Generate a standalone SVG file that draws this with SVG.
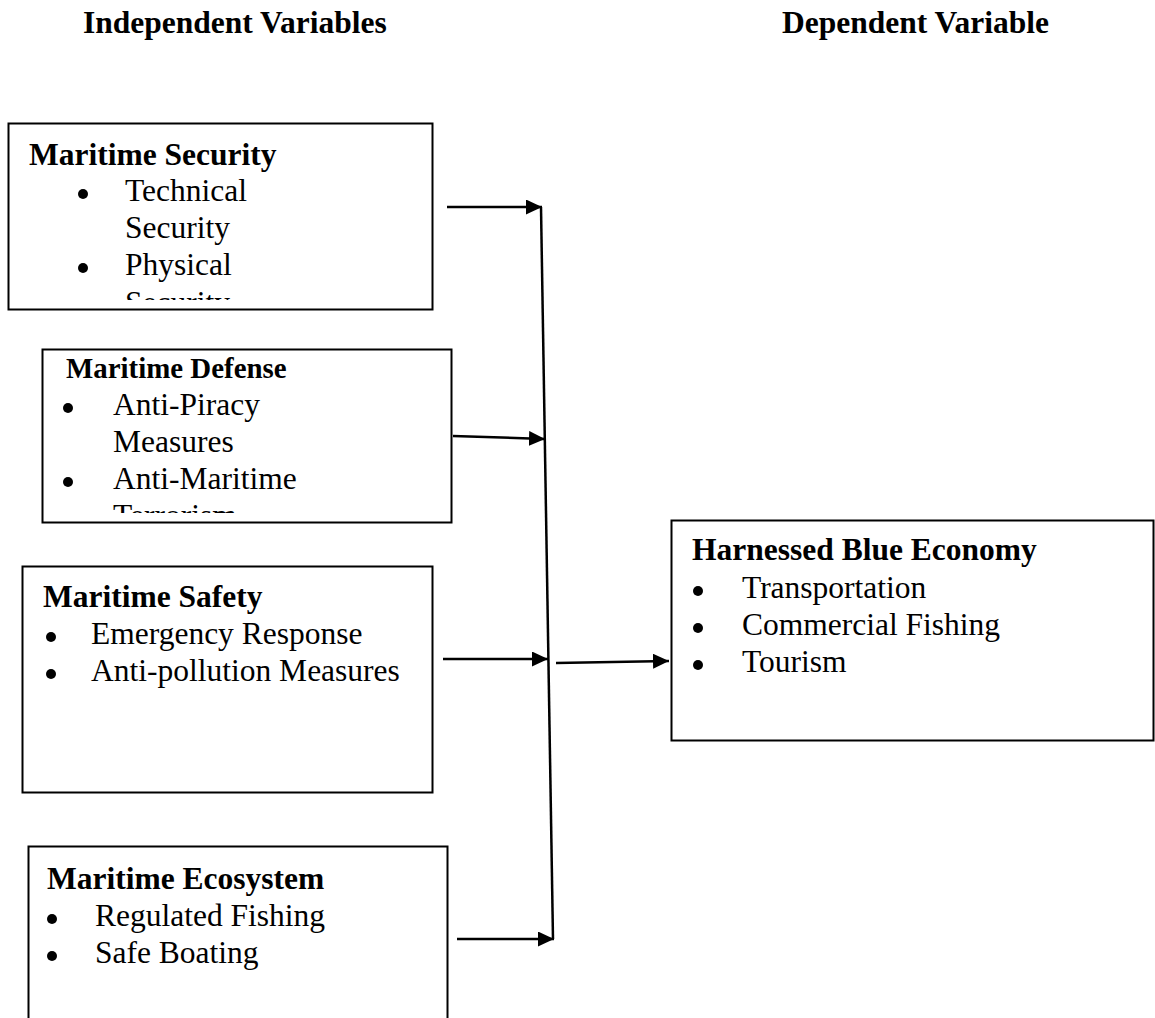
<svg xmlns="http://www.w3.org/2000/svg" width="1155" height="1018" viewBox="0 0 1155 1018">
<style>
  .box { fill: #ffffff; stroke: #000000; stroke-width: 2; }
  .hd { font-family: "Liberation Serif", "Times New Roman", serif; font-weight: bold; font-size: 31.5px; fill: #000; }
  .ttl { font-family: "Liberation Serif", "Times New Roman", serif; font-weight: bold; font-size: 31.5px; fill: #000; }
  .ttl-s { font-family: "Liberation Serif", "Times New Roman", serif; font-weight: bold; font-size: 28.9px; fill: #000; }
  .itm { font-family: "Liberation Serif", "Times New Roman", serif; font-size: 31.5px; fill: #000; }
  .con { stroke: #000; stroke-width: 2.5; fill: none; }
</style>
<defs>
  <marker id="ah" markerUnits="userSpaceOnUse" markerWidth="18" markerHeight="16" refX="16" refY="7.5" orient="auto">
    <path d="M0,0 L16,7.5 L0,15 Z" fill="#000"/>
  </marker>
  <clipPath id="c1"><rect x="8" y="123" width="425" height="177"/></clipPath>
  <clipPath id="c2"><rect x="42" y="349" width="410" height="164"/></clipPath>
</defs>

<g id="headers">
  <text class="hd" x="83" y="33">Independent Variables</text>
  <text class="hd" x="782" y="33">Dependent Variable</text>
</g>

<g id="node-security">
  <rect class="box" x="8.5" y="123.5" width="424" height="186"/>
  <g clip-path="url(#c1)">
    <text class="ttl" x="29" y="165">Maritime Security</text>
    <circle cx="83" cy="194" r="5"/>
    <text class="itm" x="125" y="201">Technical</text>
    <text class="itm" x="125" y="238">Security</text>
    <circle cx="83" cy="268" r="5"/>
    <text class="itm" x="125" y="275">Physical</text>
    <text class="itm" x="125" y="313">Security</text>
  </g>
</g>

<g id="node-defense">
  <rect class="box" x="42.5" y="349.5" width="409" height="173"/>
  <g clip-path="url(#c2)">
    <text class="ttl-s" x="66" y="378">Maritime Defense</text>
    <circle cx="68" cy="408" r="5"/>
    <text class="itm" x="113" y="415">Anti-Piracy</text>
    <text class="itm" x="113" y="452">Measures</text>
    <circle cx="68" cy="482" r="5"/>
    <text class="itm" x="113" y="489">Anti-Maritime</text>
    <text class="itm" x="113" y="526">Terrorism</text>
  </g>
</g>

<g id="node-safety">
  <rect class="box" x="22.5" y="566.5" width="410" height="226"/>
  <text class="ttl" x="43" y="607">Maritime Safety</text>
  <circle cx="51" cy="637" r="5"/>
  <text class="itm" x="91" y="644">Emergency Response</text>
  <circle cx="51" cy="674" r="5"/>
  <text class="itm" x="91" y="681">Anti-pollution Measures</text>
</g>

<g id="node-ecosystem">
  <rect class="box" x="28.5" y="846.5" width="419" height="200"/>
  <text class="ttl" x="47" y="889">Maritime Ecosystem</text>
  <circle cx="52" cy="919" r="5"/>
  <text class="itm" x="95" y="926">Regulated Fishing</text>
  <circle cx="52" cy="956" r="5"/>
  <text class="itm" x="95" y="963">Safe Boating</text>
</g>

<g id="node-blue-economy">
  <rect class="box" x="671.5" y="520.5" width="482" height="220"/>
  <text class="ttl" x="692" y="560">Harnessed Blue Economy</text>
  <circle cx="698" cy="591" r="5"/>
  <text class="itm" x="742" y="598">Transportation</text>
  <circle cx="698" cy="628" r="5"/>
  <text class="itm" x="742" y="635">Commercial Fishing</text>
  <circle cx="698" cy="665" r="5"/>
  <text class="itm" x="742" y="672">Tourism</text>
</g>

<g id="connectors">
  <line class="con" x1="541" y1="207" x2="553" y2="939"/>
  <line class="con" x1="447" y1="207" x2="542" y2="207" marker-end="url(#ah)"/>
  <line class="con" x1="453" y1="436" x2="545" y2="439" marker-end="url(#ah)"/>
  <line class="con" x1="443" y1="659" x2="548" y2="659" marker-end="url(#ah)"/>
  <line class="con" x1="457" y1="939" x2="554" y2="939" marker-end="url(#ah)"/>
  <line class="con" x1="556" y1="663" x2="669" y2="661" marker-end="url(#ah)"/>
</g>
</svg>
